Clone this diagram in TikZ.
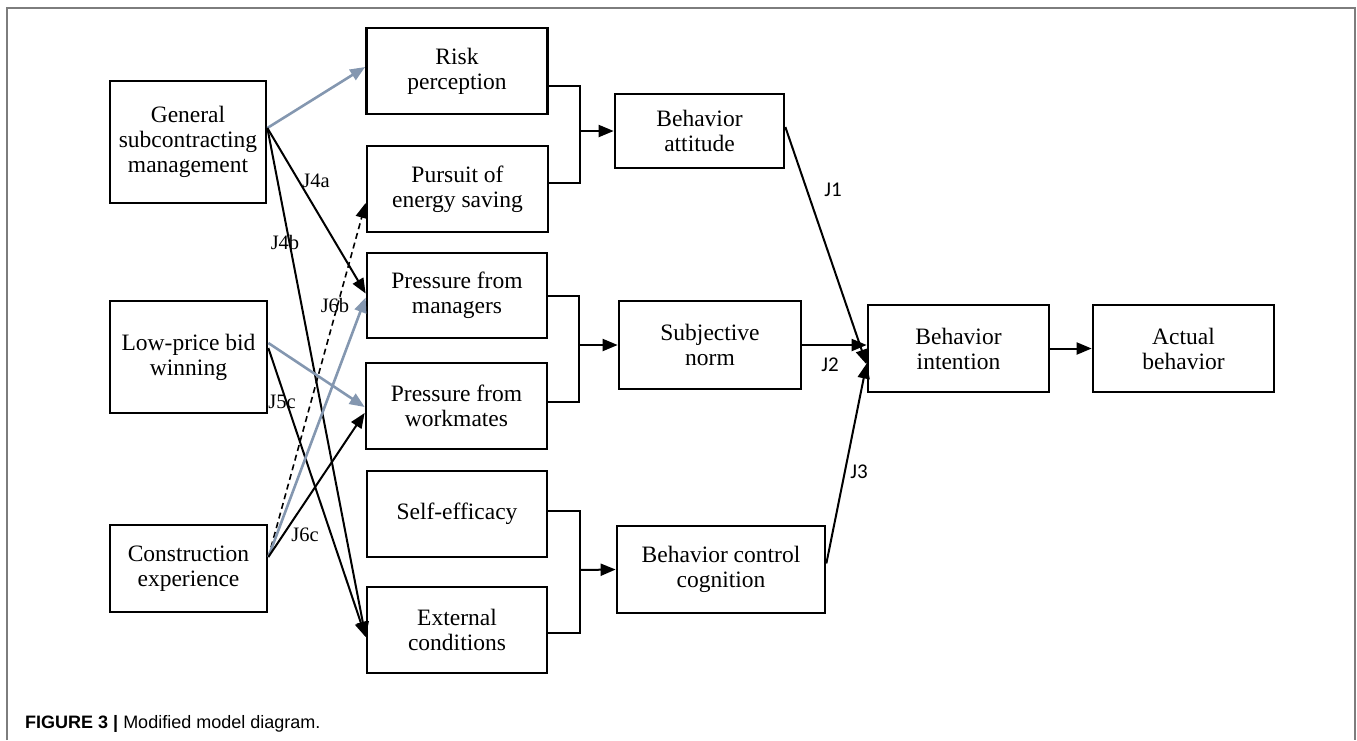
\documentclass[tikz,border=0pt]{standalone}
\usepackage{fontspec}
\setmainfont{Liberation Serif}
\newfontfamily\calibrifont{Carlito}
\newfontfamily\arialfont{Liberation Sans}
\usetikzlibrary{arrows.meta}
\definecolor{steelgray}{RGB}{132,151,176}
\definecolor{framegray}{RGB}{125,125,125}
\begin{document}
\begin{tikzpicture}[x=1pt,y=-1pt,
  box/.style={draw, line width=2.7pt, align=center, inner sep=0pt,
    font=\fontsize{23.5}{25}\selectfont},
  arr/.style={line width=2pt, -{Triangle[length=15pt,width=12pt]}},
  garr/.style={arr, draw=steelgray, line width=2.6pt},
  darr/.style={arr, line width=1.6pt, dash pattern=on 6pt off 4pt},
  brk/.style={line width=2pt},
  jlab/.style={inner sep=0pt, font=\fontsize{20.5}{22}\selectfont},
  klab/.style={inner sep=0pt, font=\calibrifont\fontsize{21}{23}\selectfont}]
\useasboundingbox (0,0) rectangle (1357,740);
% frame
\draw[framegray, line width=1.5pt] (7,740) -- (7,8) -- (1355,8) -- (1355,740);

% boxes
\node[box, minimum width=156pt, minimum height=122pt] (gsm) at (188,142) {General\\subcontracting\\management};
\node[box, minimum width=157pt, minimum height=112pt] (lpb) at (188.5,357) {Low-price bid\\winning};
\node[box, minimum width=157pt, minimum height=87pt] (ce) at (188.5,568.5) {Construction\\experience};
\node[box, minimum width=181pt, minimum height=86pt] (risk) at (457,71) {Risk\\perception};
\node[box, minimum width=181pt, minimum height=86pt] (pur) at (457.5,189) {Pursuit of\\energy saving};
\node[box, minimum width=180pt, minimum height=85pt] (pm) at (457,295.5) {Pressure from\\managers};
\node[box, minimum width=181pt, minimum height=86pt] (pw) at (456.5,406) {Pressure from\\workmates};
\node[box, minimum width=180pt, minimum height=86pt] (se) at (457,514) {Self-efficacy};
\node[box, minimum width=180pt, minimum height=86pt] (ec) at (457,630) {External\\conditions};
\node[box, minimum width=169pt, minimum height=74pt] (ba) at (699.5,131) {Behavior\\attitude};
\node[box, minimum width=182pt, minimum height=88pt] (sn) at (710,345) {Subjective\\norm};
\node[box, minimum width=208pt, minimum height=87pt] (bcc) at (721,569.5) {Behavior control\\cognition};
\node[box, minimum width=181pt, minimum height=87pt] (bi) at (958.5,348.5) {Behavior\\intention};
\node[box, minimum width=181pt, minimum height=87pt] (ab) at (1183.5,348.5) {Actual\\behavior};

% labels
\node[jlab] (l4a) at (316,181) {J4a};
\node[jlab] (l4b) at (285,242) {J4b};
\node[jlab] (l5c) at (282,402) {J5c};
\node[jlab] (l6b) at (335,305) {J6b};
\node[jlab] (l6c) at (305,535) {J6c};
\node[klab] (l1) at (833,190) {J1};
\node[klab] (l2) at (830,365) {J2};
\node[klab] (l3) at (859,472) {J3};

% left connectors
\draw[garr] ([yshift=14pt]gsm.east) -- ([yshift=4pt]risk.west);
\draw[arr] ([yshift=14pt]gsm.east) -- ([yshift=2pt]pm.west);
\draw[arr] ([yshift=14pt]gsm.east) -- ([yshift=-7pt]ec.west);
\draw[garr] ([yshift=14pt]lpb.east) -- ([yshift=-1pt]pw.west);
\draw[arr] ([yshift=9pt]lpb.east) -- ([yshift=-7pt]ec.west);
\draw[darr] ([yshift=11.5pt]ce.east) -- ([yshift=-14pt]pur.west);
\draw[garr] ([yshift=11.5pt]ce.east) -- ([yshift=-2pt]pm.west);
\draw[arr] ([yshift=11.5pt]ce.east) -- ([yshift=-7pt]pw.west);

% brackets
\coordinate (b1) at (580,131);
\coordinate (b2) at (579,345);
\coordinate (b3) at (580,570);
\draw[brk] ([yshift=-15pt]risk.east) -| (b1) |- ([yshift=6pt]pur.east);
\draw[brk] (pm.east) -| (b2) |- ([yshift=4pt]pw.east);
\draw[brk] ([yshift=3pt]se.east) -| (b3) |- ([yshift=-3pt]ec.east);
\draw[arr] (b1) -- (ba.west);
\draw[arr] (b2) -- (sn.west);
\draw[arr] (b3) -- (bcc.west);

% right connectors
\draw[arr] ([yshift=4pt]ba.east) -- ([yshift=-16pt]bi.west);
\draw[arr] (sn.east) -- ([yshift=3.5pt]bi.west);
\draw[arr] ([yshift=6pt]bcc.east) -- ([yshift=-15pt]bi.west);
\draw[arr] (bi.east) -- (ab.west);

% caption
\node[anchor=base west, inner sep=0pt, font=\arialfont\fontsize{18}{20}\selectfont] (cap) at (25,728)
  {\textbf{FIGURE 3 |} Modified model diagram.};
\end{tikzpicture}
\end{document}
